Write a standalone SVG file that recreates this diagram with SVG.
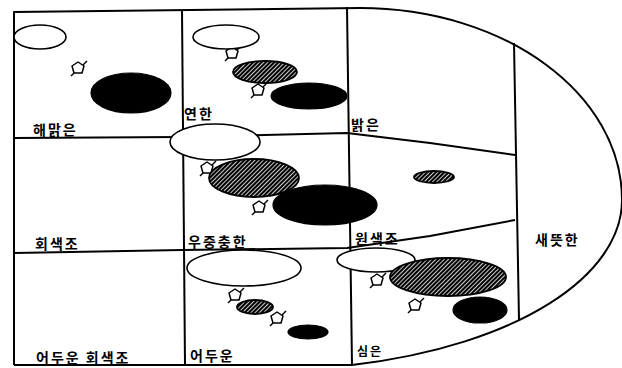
<svg xmlns="http://www.w3.org/2000/svg" width="622" height="368" viewBox="0 0 622 368">
<style>
.ln{fill:none;stroke:#000;stroke-width:2;stroke-linejoin:round}
.w{fill:#fff;stroke:#000;stroke-width:1.6}
.b{fill:#000;stroke:#000;stroke-width:1.2}
.h{fill:url(#hatch);stroke:#000;stroke-width:1.8}
.t{font-family:"Noto Sans CJK KR","Noto Sans",sans-serif;font-size:14px;font-weight:bold;fill:#000;letter-spacing:2px}
.p{fill:#fff;stroke:#000;stroke-width:1.5;stroke-linejoin:round}
.tail{stroke:#000;stroke-width:1.5;fill:none}
</style>
<defs>
<pattern id="hatch" patternUnits="userSpaceOnUse" width="3" height="3" patternTransform="rotate(45)">
<rect width="3" height="3" fill="#fff"/>
<rect width="2.2" height="3" fill="#000"/>
</pattern>
<g id="pent">
<polygon class="p" points="0,-6 6,-2 4,5 -4,5 -6,-2"/>
<line class="tail" x1="5" y1="-3" x2="9" y2="-7"/>
<line class="tail" x1="-4" y1="5" x2="-7" y2="8"/>
</g>
</defs>
<rect width="622" height="368" fill="#fff"/>
<g id="grid">
<path class="ln" d="M14,365 L14,12 L360,8 C505,8 622,94 622,200 C622,275 520,345 352,365 L14,365"/>
<line class="ln" x1="182" y1="10" x2="185" y2="365"/>
<line class="ln" x1="347" y1="7" x2="352" y2="365"/>
<line class="ln" x1="514" y1="43" x2="519" y2="320"/>
<polyline class="ln" points="14,138 182,137 347,133 430,143 515,155"/>
<polyline class="ln" points="14,253 182,250 347,248 430,236 515,220"/>
</g>
<g id="connectors">
<use href="#pent" x="78" y="68"/>
<use href="#pent" x="232" y="53"/>
<use href="#pent" x="258" y="90"/>
<use href="#pent" x="207" y="168"/>
<use href="#pent" x="259" y="207"/>
<use href="#pent" x="235" y="295"/>
<use href="#pent" x="277" y="318"/>
<use href="#pent" x="377" y="280"/>
<use href="#pent" x="415" y="305"/>
</g>
<g id="node-pale">
<ellipse class="w" cx="40" cy="37" rx="26" ry="12"/>
<ellipse class="b" cx="131" cy="93" rx="40" ry="20"/>
<text class="t" x="33" y="135">해맑은</text>
</g>
<g id="node-light">
<ellipse class="w" cx="226" cy="37" rx="33" ry="12"/>
<ellipse class="h" cx="265" cy="72" rx="32" ry="11"/>
<ellipse class="b" cx="309" cy="96" rx="38" ry="13"/>
<text class="t" x="184" y="119">연한</text>
</g>
<g id="node-bright">
<ellipse class="h" cx="434" cy="177" rx="20" ry="6"/>
<text class="t" x="351" y="130">밝은</text>
</g>
<g id="node-grayish">
<text class="t" x="35" y="249">회색조</text>
</g>
<g id="node-dull">
<ellipse class="w" cx="215" cy="142" rx="45" ry="18"/>
<ellipse class="h" cx="254" cy="178" rx="45" ry="19"/>
<ellipse class="b" cx="325" cy="205" rx="52" ry="20"/>
<text class="t" x="188" y="247">우중충한</text>
</g>
<g id="node-strong">
<text class="t" x="355" y="244">원색조</text>
</g>
<g id="node-vivid">
<text class="t" x="535" y="245">새뜻한</text>
</g>
<g id="node-darkgrayish">
<text class="t" x="36" y="363" xml:space="preserve">어두운 회색조</text>
</g>
<g id="node-dark">
<ellipse class="w" cx="244" cy="268" rx="57" ry="18"/>
<ellipse class="h" cx="255" cy="307" rx="18" ry="7"/>
<ellipse class="b" cx="308" cy="332" rx="20" ry="7"/>
<text class="t" x="190" y="361">어두운</text>
</g>
<g id="node-deep">
<ellipse class="w" cx="376" cy="260" rx="39" ry="12"/>
<ellipse class="h" cx="448" cy="277" rx="58" ry="19"/>
<ellipse class="b" cx="480" cy="310" rx="27" ry="13"/>
<text class="t" x="357" y="356" style="font-size:12px">심은</text>
</g>
</svg>
